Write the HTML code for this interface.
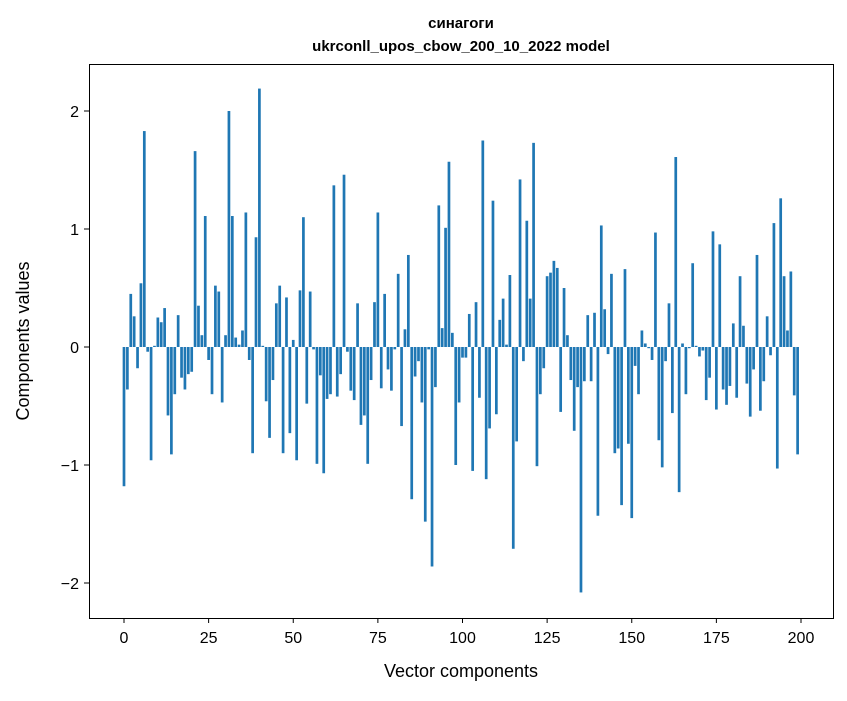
<!DOCTYPE html>
<html><head><meta charset="utf-8"><style>
body{margin:0;background:#fff;}
svg text{font-family:"Liberation Sans","DejaVu Sans",sans-serif;fill:#000;}
</style></head><body>
<svg id="chart" width="847" height="696" xmlns="http://www.w3.org/2000/svg">
<rect width="847" height="696" fill="#fff"/>
<text x="461" y="28" text-anchor="middle" font-size="15" font-weight="bold">синагоги</text>
<text x="461" y="51" text-anchor="middle" font-size="15" font-weight="bold">ukrconll_upos_cbow_200_10_2022 model</text>
<g id="bars"></g>
<g id="xticks"></g>
<g id="yticks"></g>
<rect x="89.5" y="64.5" width="744" height="554" fill="none" stroke="#000" stroke-width="1"/>
<text x="461" y="677" text-anchor="middle" font-size="18">Vector components</text>
<text transform="translate(29,341) rotate(-90)" text-anchor="middle" font-size="18">Components values</text>
</svg>
<script>
const values = [-1.18,-0.36,0.45,0.26,-0.18,0.54,1.83,-0.04,-0.96,0.01,
0.25,0.21,0.33,-0.58,-0.91,-0.40,0.27,-0.26,-0.36,-0.23,
-0.21,1.66,0.35,0.10,1.11,-0.11,-0.40,0.52,0.47,-0.47,
0.10,2.00,1.11,0.08,0.02,0.14,1.14,-0.11,-0.90,0.93,
2.19,0.01,-0.46,-0.77,-0.28,0.37,0.52,-0.90,0.42,-0.73,
0.06,-0.96,0.48,1.10,-0.48,0.47,-0.02,-0.99,-0.24,-1.07,
-0.44,-0.40,1.37,-0.42,-0.23,1.46,-0.04,-0.37,-0.45,0.37,
-0.66,-0.58,-0.99,-0.28,0.38,1.14,-0.35,0.45,-0.19,-0.37,
-0.02,0.62,-0.67,0.15,0.78,-1.29,-0.25,-0.12,-0.47,-1.48,
-0.02,-1.86,-0.34,1.20,0.16,1.01,1.57,0.12,-1.00,-0.47,
-0.09,-0.09,0.28,-1.05,0.38,-0.43,1.75,-1.12,-0.69,1.24,
-0.57,0.23,0.41,0.02,0.61,-1.71,-0.80,1.42,-0.12,1.07,
0.41,1.73,-1.01,-0.40,-0.18,0.60,0.63,0.73,0.67,-0.55,
0.50,0.10,-0.28,-0.71,-0.34,-2.08,-0.29,0.27,-0.29,0.29,
-1.43,1.03,0.32,-0.06,0.62,-0.90,-0.86,-1.34,0.66,-0.82,
-1.45,-0.16,-0.40,0.14,0.03,-0.01,-0.11,0.97,-0.79,-1.02,
-0.12,0.37,-0.56,1.61,-1.23,0.03,-0.40,-0.01,0.71,0.01,
-0.08,-0.03,-0.45,-0.26,0.98,-0.53,0.87,-0.36,-0.49,-0.33,
0.20,-0.43,0.60,0.18,-0.31,-0.59,-0.19,0.78,-0.54,-0.29,
0.26,-0.07,1.05,-1.03,1.26,0.60,0.14,0.64,-0.41,-0.91];
const xTickLabels = [0,25,50,75,100,125,150,175,200];
const yTickLabels = [-2,-1,0,1,2];

const xs = v => 124 + v * 3.385;
const ys = v => 347 - v * 118;
const NS = "http://www.w3.org/2000/svg";
const bars = document.getElementById('bars');
values.forEach((v, i) => {
  const r = document.createElementNS(NS, 'rect');
  
  
  r.setAttribute('x', xs(i - 0.4));
  r.setAttribute('width', xs(0.8) - xs(0));
  r.setAttribute('y', Math.min(ys(v), ys(0)));
  r.setAttribute('height', Math.abs(ys(v) - ys(0)));
  r.setAttribute('fill', '#1f77b4');
  bars.appendChild(r);
});
const xg = document.getElementById('xticks');
xTickLabels.forEach(t => {
  const l = document.createElementNS(NS, 'line');
  
  
  l.setAttribute('x1', xs(t)); l.setAttribute('x2', xs(t));
  l.setAttribute('y1', 618); l.setAttribute('y2', 623);
  l.setAttribute('stroke', '#000');
  xg.appendChild(l);
  const tx = document.createElementNS(NS, 'text');
  
  
  tx.setAttribute('x', xs(t)); tx.setAttribute('y', 643);
  tx.setAttribute('text-anchor', 'middle');
  tx.setAttribute('font-size', '16');
  tx.textContent = t;
  xg.appendChild(tx);
});
const yg = document.getElementById('yticks');
yTickLabels.forEach(t => {
  const l = document.createElementNS(NS, 'line');
  
  
  l.setAttribute('x1', 84); l.setAttribute('x2', 89);
  l.setAttribute('y1', ys(t)); l.setAttribute('y2', ys(t));
  l.setAttribute('stroke', '#000');
  yg.appendChild(l);
  const tx = document.createElementNS(NS, 'text');
  
  
  tx.setAttribute('x', 79); tx.setAttribute('y', ys(t) + 6);
  tx.setAttribute('text-anchor', 'end');
  tx.setAttribute('font-size', '16');
  tx.textContent = t < 0 ? '\u2212' + Math.abs(t) : t;
  yg.appendChild(tx);
});
</script>
</body></html>
